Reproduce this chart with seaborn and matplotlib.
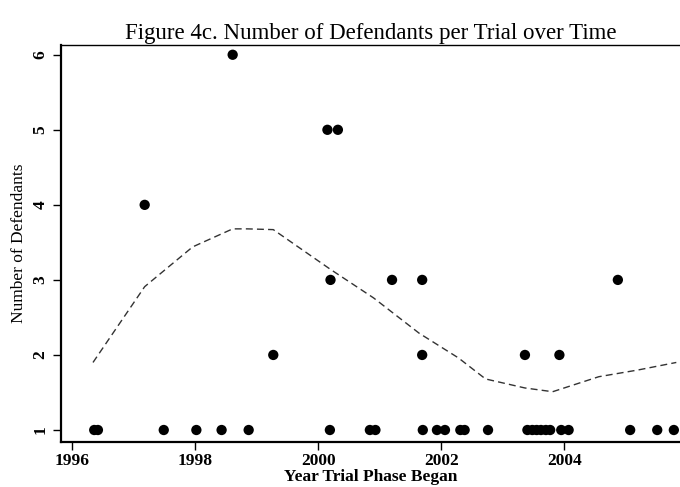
import numpy as np
import pandas as pd
import matplotlib
matplotlib.use('Agg')
import matplotlib.pyplot as plt
import seaborn as sns

# trial start year and number of defendants
years_1 = [1996.36, 1996.42, 1997.49, 1998.02, 1998.43, 1998.87, 2000.19, 2000.84,
           2000.93, 2001.70, 2001.93, 2002.06, 2002.31, 2002.38, 2002.76, 2003.40,
           2003.48, 2003.55, 2003.62, 2003.70, 2003.77, 2003.95, 2004.07, 2005.07,
           2005.51, 2005.78]
years_2 = [1999.27, 2001.69, 2003.36, 2003.92]
years_3 = [2000.20, 2001.20, 2001.69, 2004.87]
years_4 = [1997.18]
years_5 = [2000.15, 2000.32]
years_6 = [1998.61]

# smoothed trend line
trend_x = [1996.34, 1997.18, 1997.96, 1998.61, 1998.85, 1999.27, 2000.20, 2000.90,
           2001.64, 2002.28, 2002.72, 2003.36, 2003.81, 2004.56, 2005.20, 2005.82]
trend_y = [1.90, 2.91, 3.44, 3.68, 3.68, 3.67, 3.14, 2.76,
           2.29, 1.96, 1.68, 1.56, 1.51, 1.71, 1.80, 1.90]

x_ticks = [1996, 1998, 2000, 2002, 2004]
y_ticks = [1, 2, 3, 4, 5, 6]


def build_frame():
    """Stack the per-count year lists into one long table."""
    rows = []
    for n, ys in enumerate([years_1, years_2, years_3, years_4, years_5, years_6], start=1):
        for y in ys:
            rows.append({'year': y, 'defendants': n})
    return pd.DataFrame(rows)


sns.set_style('ticks')
plt.rcParams['font.family'] = ['Liberation Serif', 'DejaVu Serif']
plt.rcParams['text.color'] = 'black'
plt.rcParams['axes.labelcolor'] = 'black'
plt.rcParams['xtick.color'] = 'black'
plt.rcParams['ytick.color'] = 'black'

df = build_frame()
trend = pd.DataFrame({'year': trend_x, 'fit': trend_y})

fig = plt.figure(figsize=(6.8, 4.87), dpi=100)
ax = fig.add_axes([0.0897, 0.093, 0.9103, 0.8146])

sns.lineplot(data=trend, x='year', y='fit', ax=ax, color='#333333', lw=1.0,
             dashes=False, sort=False, estimator=None, linestyle=(0, (5, 3)))
sns.scatterplot(data=df, x='year', y='defendants', ax=ax, color='black',
                s=55, edgecolor='none', zorder=3)

ax.set_xlim(1995.82, 2005.88)
ax.set_ylim(0.844, 6.13)
ax.set_xticks(x_ticks)
ax.set_yticks(y_ticks)
ax.set_xticklabels([str(t) for t in x_ticks], fontsize=12.5, fontweight='bold')
ax.set_yticklabels([str(t) for t in y_ticks], fontsize=12.5, fontweight='bold',
                   rotation=90, va='center')
ax.tick_params(axis='both', length=6, width=1.0, color='black', direction='out')
ax.tick_params(axis='x', pad=2)
ax.tick_params(axis='y', pad=3)

ax.spines['left'].set_linewidth(1.6)
ax.spines['bottom'].set_linewidth(1.6)
ax.spines['top'].set_linewidth(1.0)
ax.spines['right'].set_visible(False)
for sp in ax.spines.values():
    sp.set_color('black')

ax.set_xlabel('Year Trial Phase Began', fontsize=12.5, fontweight='bold', labelpad=0)
ax.set_ylabel('Number of Defendants', fontsize=12.5, labelpad=4)
ax.set_title('Figure 4c. Number of Defendants per Trial over Time', fontsize=16.5, pad=4)

fig.savefig('out.png', dpi=100)
